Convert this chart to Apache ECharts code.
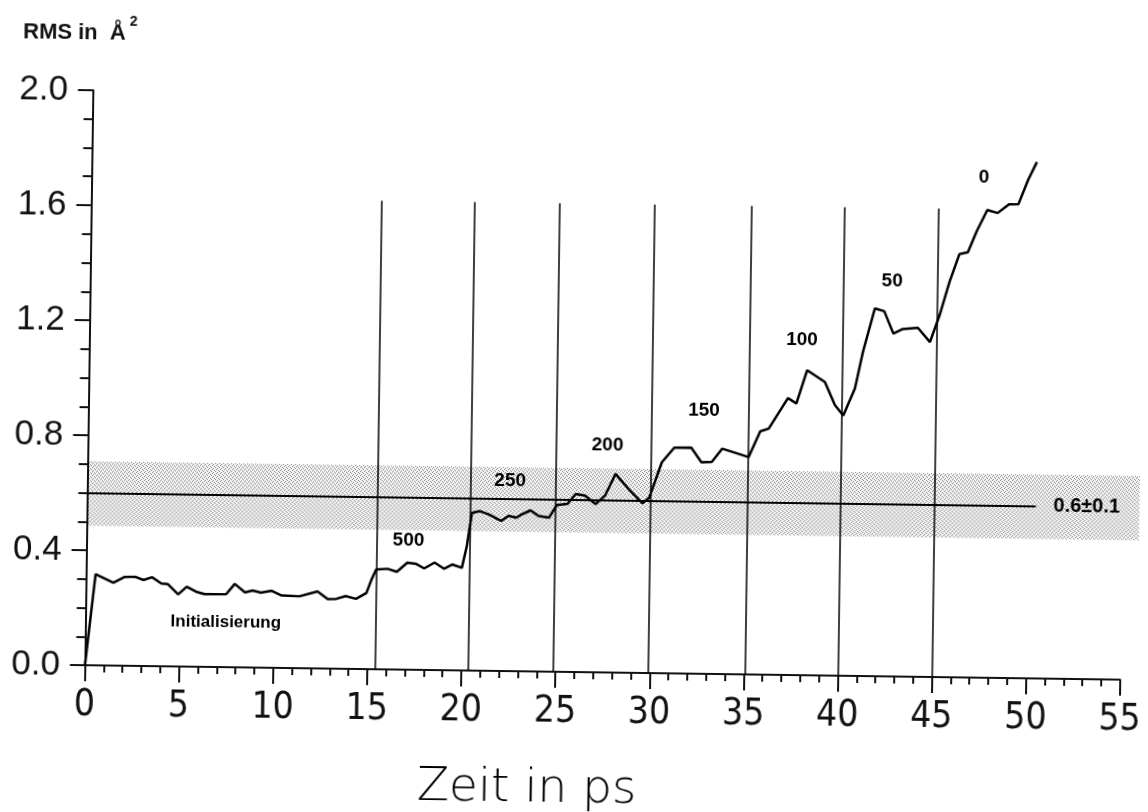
<!DOCTYPE html>
<html>
<head>
<meta charset="utf-8">
<script src="https://cdn.jsdelivr.net/npm/echarts@6/dist/echarts.min.js"></script>
<style>
  html, body { margin: 0; padding: 0; background: #fff; overflow: hidden; }
  /* the scanned original sits slightly askew */
  #chart { width: 1148px; height: 812px; transform: rotate(0.8deg); transform-origin: 50% 50%; }
</style>
</head>
<body>
<div id="chart"></div>
<script>
// RMS deviation over time (ps)
var timeValues = [0, 0.5, 1.45, 2.05, 2.6, 3.05, 3.5, 4.0, 4.35, 4.9, 5.35, 5.85, 6.3, 7.45, 7.9, 8.45, 8.85, 9.3, 9.85, 10.4,
  11.35, 12.3, 12.85, 13.3, 13.8, 14.35, 14.9, 15.15, 15.4, 16.0, 16.5, 17.05, 17.5, 17.95, 18.5, 19.0, 19.45, 19.95,
  20.2, 20.45, 20.85, 21.35, 22.0, 22.4, 22.8, 23.1, 23.55, 24.0, 24.55, 24.95, 25.5, 25.95, 26.45, 27.0, 27.5, 28.05,
  28.75, 29.5, 29.85, 30.5, 31.15, 32.05, 32.6, 33.15, 33.7, 34.4, 35.1, 35.7, 36.15, 37.15, 37.6, 38.15, 39.1, 39.65,
  40.1, 40.7, 41.1, 41.7, 42.2, 42.7, 43.2, 44.0, 44.65, 45.15, 45.65, 46.15, 46.6, 47.05, 47.6, 48.15, 48.75, 49.25,
  49.75, 50.2];
var rmsValues = [0.0, 0.317, 0.288, 0.309, 0.31, 0.299, 0.309, 0.288, 0.286, 0.251, 0.278, 0.261, 0.253, 0.254, 0.29, 0.261, 0.268, 0.261, 0.268, 0.252,
  0.25, 0.268, 0.242, 0.243, 0.253, 0.244, 0.265, 0.31, 0.347, 0.35, 0.34, 0.372, 0.369, 0.353, 0.374, 0.353, 0.368, 0.357,
  0.433, 0.549, 0.555, 0.544, 0.522, 0.54, 0.534, 0.546, 0.56, 0.541, 0.536, 0.58, 0.584, 0.619, 0.614, 0.585, 0.615, 0.691,
  0.639, 0.59, 0.61, 0.734, 0.785, 0.786, 0.736, 0.737, 0.784, 0.77, 0.756, 0.846, 0.856, 0.963, 0.945, 1.061, 1.021, 0.941,
  0.905, 1.0, 1.128, 1.279, 1.27, 1.193, 1.209, 1.214, 1.165, 1.26, 1.376, 1.472, 1.479, 1.552, 1.627, 1.617, 1.648, 1.649,
  1.734, 1.796];

// temperature steps (vertical lines) and their labels
var stageTimes = [15.4, 20.35, 24.85, 29.9, 35.05, 40.0, 45.0];
var stageTop = 1.63;
var labelTexts = ['Initialisierung', '500', '250', '200', '150', '100', '50', '0'];
var labelX = [7.45, 17.1, 22.45, 27.6, 32.7, 37.85, 42.6, 47.4];
var labelY = [0.157, 0.45, 0.66, 0.79, 0.915, 1.165, 1.375, 1.74];

// mean band 0.6 +- 0.1
var bandMean = 0.6;
var bandLow = 0.485;
var bandHigh = 0.71;
var bandLineEnd = 50.4;
var bandEnd = 55.9;
var bandText = '0.6\u00b10.1';
var bandTextX = 53.1;

var chart = echarts.init(document.getElementById('chart'));

// halftone dots for the band
var pat = document.createElement('canvas');
pat.width = 4;
pat.height = 4;
var pctx = pat.getContext('2d');
pctx.fillStyle = 'rgba(0,0,0,0.04)';
pctx.fillRect(0, 0, 4, 4);
pctx.fillStyle = 'rgba(0,0,0,0.42)';
[[0, 0], [2, 1], [1, 2], [3, 3]].forEach(function (d) { pctx.fillRect(d[0], d[1], 1, 1); });

var lineData = timeValues.map(function (t, i) { return [t, rmsValues[i]]; });

var stageLines = stageTimes.map(function (t) {
  return [{ coord: [t, 0] }, { coord: [t, stageTop] }];
});
stageLines.push([{ coord: [0, bandMean], lineStyle: { width: 1.8 } }, { coord: [bandLineEnd, bandMean] }]);

var labelData = labelTexts.map(function (txt, i) {
  var item = { name: txt, value: [labelX[i], labelY[i]] };
  if (i === 0) item.label = { fontSize: 17 };
  return item;
});
labelData.push({ name: bandText, value: [bandTextX, bandMean], label: { fontSize: 20 } });

var axisColor = '#111';

var option = {
  animation: false,
  grid: { left: 88.6, right: 21, top: 97, bottom: 140 },
  xAxis: {
    type: 'value',
    min: 0,
    max: 55,
    interval: 5,
    splitLine: { show: false },
    axisLine: { lineStyle: { color: axisColor, width: 2 } },
    axisTick: { length: 16, lineStyle: { color: axisColor, width: 2 } },
    minorTick: { show: true, splitNumber: 5, length: 7, lineStyle: { color: axisColor, width: 2 } },
    axisLabel: {
      margin: 22,
      fontSize: 37,
      color: '#111',
      fontFamily: "'Liberation Sans Narrow', 'DejaVu Sans Condensed', 'Liberation Sans', sans-serif"
    }
  },
  yAxis: {
    type: 'value',
    min: 0,
    max: 2,
    interval: 0.4,
    splitLine: { show: false },
    axisLine: { show: true, lineStyle: { color: axisColor, width: 2 } },
    axisTick: { show: true, length: 15, lineStyle: { color: axisColor, width: 2 } },
    minorTick: { show: true, splitNumber: 4, length: 9, lineStyle: { color: axisColor, width: 2 } },
    axisLabel: {
      margin: 25,
      fontSize: 35,
      color: '#111',
      fontFamily: "'Liberation Sans', Arial, sans-serif",
      formatter: function (v) { return v.toFixed(1); }
    }
  },
  graphic: [
    {
      type: 'text', left: 18, top: 29,
      style: { text: 'RMS in  \u00c5', fontSize: 22, fontWeight: 'bold', fill: '#111', fontFamily: "'Liberation Sans', Arial, sans-serif" }
    },
    {
      type: 'text', left: 124.5, top: 21,
      style: { text: '2', fontSize: 14, fontWeight: 'bold', fill: '#111', fontFamily: "'Liberation Sans', Arial, sans-serif" }
    },
    {
      type: 'text', x: 532, y: 790,
      style: {
        text: 'Zeit in ps', fontSize: 47, fontWeight: 300, fill: '#000',
        fontFamily: "'DejaVu Sans', sans-serif", align: 'center', verticalAlign: 'middle'
      }
    }
  ],
  series: [
    {
      name: 'band',
      type: 'custom',
      silent: true,
      clip: false,
      z: 1,
      data: [[0, bandEnd, bandLow, bandHigh]],
      renderItem: function (params, api) {
        var p1 = api.coord([api.value(0), api.value(3)]);
        var p2 = api.coord([api.value(1), api.value(2)]);
        return {
          type: 'rect',
          shape: { x: p1[0], y: p1[1], width: p2[0] - p1[0], height: p2[1] - p1[1] },
          style: { fill: { image: pat, repeat: 'repeat' } }
        };
      }
    },
    {
      name: 'RMS',
      type: 'line',
      data: lineData,
      symbol: 'none',
      z: 3,
      clip: false,
      lineStyle: { color: '#000', width: 2.5 },
      markLine: {
        silent: true,
        symbol: ['none', 'none'],
        label: { show: false },
        lineStyle: { color: '#000', width: 1.5, type: 'solid' },
        data: stageLines
      }
    },
    {
      name: 'labels',
      type: 'scatter',
      silent: true,
      z: 4,
      symbolSize: 1,
      itemStyle: { color: 'rgba(0,0,0,0)' },
      label: {
        show: true,
        position: 'inside',
        formatter: function (p) { return p.name; },
        fontSize: 19,
        fontWeight: 'bold',
        color: '#000',
        opacity: 1,
        textBorderWidth: 0,
        fontFamily: "'Liberation Sans', Arial, sans-serif"
      },
      data: labelData
    }
  ]
};

chart.setOption(option);
</script>
</body>
</html>
